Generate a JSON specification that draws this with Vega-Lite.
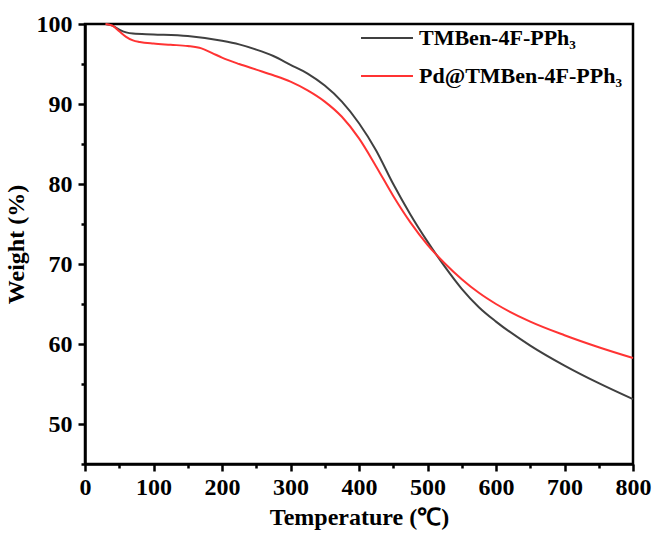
{
  "$schema": "https://vega.github.io/schema/vega-lite/v6.json",
  "width": 548,
  "height": 440,
  "autosize": {"type": "none"},
  "padding": {"left": 85, "top": 24, "right": 24, "bottom": 73},
  "background": "white",
  "config": {
    "font": "Liberation Serif, Times New Roman, serif",
    "view": {"stroke": "black", "strokeWidth": 2.5},
    "axis": {
      "domainColor": "black",
      "domainWidth": 2.5,
      "tickColor": "black",
      "tickWidth": 2.5,
      "labelFont": "Liberation Serif, Times New Roman, serif",
      "labelFontWeight": "bold",
      "labelFontSize": 24,
      "labelColor": "black",
      "titleFont": "Liberation Serif, Times New Roman, serif",
      "titleFontWeight": "bold",
      "titleFontSize": 24,
      "titleColor": "black",
      "grid": false
    },
    "legend": {
      "labelFont": "Liberation Serif, Times New Roman, serif"
    }
  },
  "data": {
    "values": [
      {"s": "TMBen-4F-PPh₃", "t": 30, "w": 100},
      {"s": "TMBen-4F-PPh₃", "t": 40, "w": 99.8},
      {"s": "TMBen-4F-PPh₃", "t": 50, "w": 99.3},
      {"s": "TMBen-4F-PPh₃", "t": 60, "w": 98.95},
      {"s": "TMBen-4F-PPh₃", "t": 70, "w": 98.8},
      {"s": "TMBen-4F-PPh₃", "t": 100, "w": 98.7},
      {"s": "TMBen-4F-PPh₃", "t": 150, "w": 98.5},
      {"s": "TMBen-4F-PPh₃", "t": 200, "w": 97.9},
      {"s": "TMBen-4F-PPh₃", "t": 225, "w": 97.45},
      {"s": "TMBen-4F-PPh₃", "t": 250, "w": 96.8},
      {"s": "TMBen-4F-PPh₃", "t": 275, "w": 96.0},
      {"s": "TMBen-4F-PPh₃", "t": 300, "w": 94.9},
      {"s": "TMBen-4F-PPh₃", "t": 325, "w": 93.8},
      {"s": "TMBen-4F-PPh₃", "t": 350, "w": 92.3},
      {"s": "TMBen-4F-PPh₃", "t": 375, "w": 90.3},
      {"s": "TMBen-4F-PPh₃", "t": 400, "w": 87.6},
      {"s": "TMBen-4F-PPh₃", "t": 425, "w": 84.2},
      {"s": "TMBen-4F-PPh₃", "t": 450, "w": 80.0},
      {"s": "TMBen-4F-PPh₃", "t": 475, "w": 76.2},
      {"s": "TMBen-4F-PPh₃", "t": 500, "w": 72.8},
      {"s": "TMBen-4F-PPh₃", "t": 525, "w": 69.7},
      {"s": "TMBen-4F-PPh₃", "t": 550, "w": 66.9},
      {"s": "TMBen-4F-PPh₃", "t": 575, "w": 64.6},
      {"s": "TMBen-4F-PPh₃", "t": 600, "w": 62.8},
      {"s": "TMBen-4F-PPh₃", "t": 650, "w": 59.8},
      {"s": "TMBen-4F-PPh₃", "t": 700, "w": 57.3},
      {"s": "TMBen-4F-PPh₃", "t": 750, "w": 55.1},
      {"s": "TMBen-4F-PPh₃", "t": 800, "w": 53.1},
      {"s": "Pd@TMBen-4F-PPh₃", "t": 30, "w": 100},
      {"s": "Pd@TMBen-4F-PPh₃", "t": 40, "w": 99.8},
      {"s": "Pd@TMBen-4F-PPh₃", "t": 50, "w": 99.1},
      {"s": "Pd@TMBen-4F-PPh₃", "t": 60, "w": 98.4},
      {"s": "Pd@TMBen-4F-PPh₃", "t": 70, "w": 97.95},
      {"s": "Pd@TMBen-4F-PPh₃", "t": 80, "w": 97.75},
      {"s": "Pd@TMBen-4F-PPh₃", "t": 100, "w": 97.55},
      {"s": "Pd@TMBen-4F-PPh₃", "t": 125, "w": 97.4},
      {"s": "Pd@TMBen-4F-PPh₃", "t": 150, "w": 97.25},
      {"s": "Pd@TMBen-4F-PPh₃", "t": 170, "w": 96.95},
      {"s": "Pd@TMBen-4F-PPh₃", "t": 185, "w": 96.4},
      {"s": "Pd@TMBen-4F-PPh₃", "t": 200, "w": 95.8},
      {"s": "Pd@TMBen-4F-PPh₃", "t": 225, "w": 95.0},
      {"s": "Pd@TMBen-4F-PPh₃", "t": 250, "w": 94.3},
      {"s": "Pd@TMBen-4F-PPh₃", "t": 275, "w": 93.6},
      {"s": "Pd@TMBen-4F-PPh₃", "t": 300, "w": 92.8},
      {"s": "Pd@TMBen-4F-PPh₃", "t": 325, "w": 91.7},
      {"s": "Pd@TMBen-4F-PPh₃", "t": 350, "w": 90.3},
      {"s": "Pd@TMBen-4F-PPh₃", "t": 375, "w": 88.4},
      {"s": "Pd@TMBen-4F-PPh₃", "t": 400, "w": 85.7},
      {"s": "Pd@TMBen-4F-PPh₃", "t": 425, "w": 82.2},
      {"s": "Pd@TMBen-4F-PPh₃", "t": 450, "w": 78.5},
      {"s": "Pd@TMBen-4F-PPh₃", "t": 475, "w": 75.2},
      {"s": "Pd@TMBen-4F-PPh₃", "t": 500, "w": 72.4},
      {"s": "Pd@TMBen-4F-PPh₃", "t": 525, "w": 70.1},
      {"s": "Pd@TMBen-4F-PPh₃", "t": 550, "w": 68.1},
      {"s": "Pd@TMBen-4F-PPh₃", "t": 575, "w": 66.4},
      {"s": "Pd@TMBen-4F-PPh₃", "t": 600, "w": 65.0},
      {"s": "Pd@TMBen-4F-PPh₃", "t": 650, "w": 62.8},
      {"s": "Pd@TMBen-4F-PPh₃", "t": 700, "w": 61.1},
      {"s": "Pd@TMBen-4F-PPh₃", "t": 750, "w": 59.6},
      {"s": "Pd@TMBen-4F-PPh₃", "t": 800, "w": 58.25}
    ]
  },
  "mark": {"type": "line", "interpolate": "monotone", "strokeWidth": 2},
  "encoding": {
    "x": {
      "field": "t",
      "type": "quantitative",
      "scale": {"domain": [0, 800], "nice": false, "zero": false},
      "axis": {
        "title": "Temperature (℃)",
        "labelFont": "Liberation Serif, Times New Roman, serif",
        "titleFont": "Liberation Serif, Times New Roman, serif",
        "values": [0, 50, 100, 150, 200, 250, 300, 350, 400, 450, 500, 550, 600, 650, 700, 750, 800],
        "labelExpr": "datum.value % 100 === 0 ? datum.label : ''",
        "tickSize": {"condition": {"test": "datum.value % 100 !== 0", "value": 4}, "value": 7},
        "labelPadding": 4,
        "labelFlush": false,
        "labelOverlap": false,
        "titlePadding": 6
      }
    },
    "y": {
      "field": "w",
      "type": "quantitative",
      "scale": {"domain": [45, 100], "nice": false, "zero": false},
      "axis": {
        "title": "Weight (%)",
        "labelFont": "Liberation Serif, Times New Roman, serif",
        "titleFont": "Liberation Serif, Times New Roman, serif",
        "values": [45, 50, 55, 60, 65, 70, 75, 80, 85, 90, 95, 100],
        "labelExpr": "datum.value % 10 === 0 ? datum.label : ''",
        "tickSize": {"condition": {"test": "datum.value % 10 !== 0", "value": 4}, "value": 7},
        "labelPadding": 6,
        "labelFlush": false,
        "labelOverlap": false,
        "titlePadding": 8
      }
    },
    "color": {
      "field": "s",
      "type": "nominal",
      "scale": {"domain": ["TMBen-4F-PPh₃", "Pd@TMBen-4F-PPh₃"], "range": ["#404040", "#ff3333"]},
      "legend": {
        "title": null,
        "orient": "none",
        "legendX": 275,
        "legendY": -13,
        "symbolType": "stroke",
        "symbolSize": 2700,
        "symbolStrokeWidth": 2,
        "labelFont": "Liberation Serif, Times New Roman, serif",
        "labelFontWeight": "bold",
        "labelFontSize": 22,
        "labelColor": "black",
        "labelOffset": 5,
        "rowPadding": -4,
        "labelLimit": 400
      }
    }
  }
}
